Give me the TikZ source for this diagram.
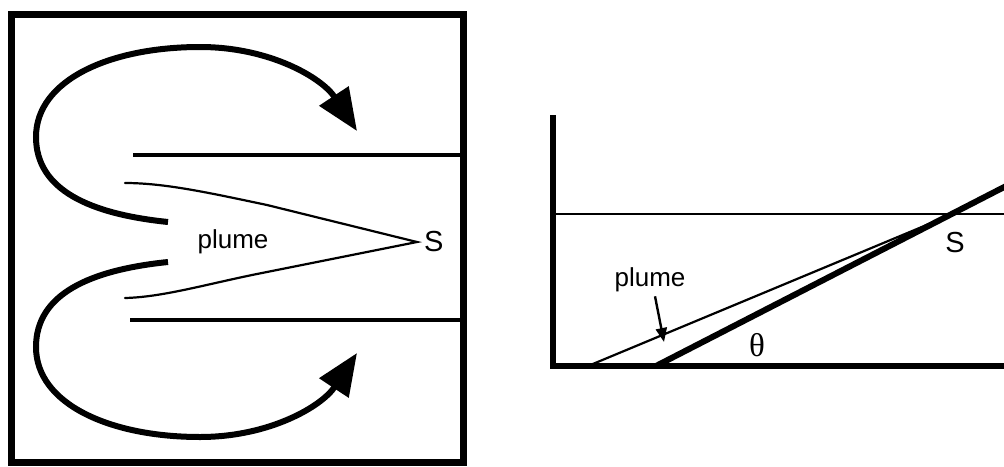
\documentclass[tikz,border=0pt]{standalone}
\usepackage{fontspec}
\setmainfont{Liberation Sans}
\newfontfamily\greekfont{Liberation Serif}
\usetikzlibrary{arrows.meta}
\begin{document}
\begin{tikzpicture}[x=1pt,y=-1pt,
  wall/.style={line width=#1, line cap=butt, line join=miter},
  flowarrow/.style={line width=6, line cap=butt, -{Triangle[length=42,width=34]}},
  thinline/.style={line width=2.2, line cap=round, line join=miter},
  lbl/.style={inner sep=0pt, font=\fontsize{26}{30}\selectfont},
  srclbl/.style={inner sep=0pt, font=\fontsize{29}{32}\selectfont}]
\useasboundingbox (0,0) rectangle (1004,466);

% ---- plan view: channel in a square tank ----
\draw[wall=7] (11,14) rectangle (463,462);
\draw[wall=4] (133,155) -- (463,155);
\draw[wall=4] (130,320) -- (463,320);

% plume spreading from the source
\draw[thinline] (125,183) .. controls (165,183) and (210,193) .. (267,205)
  -- (417,242) -- (267,272) .. controls (210,283) and (165,297) .. (125,298);
\node[lbl] (plumeL) at (233,242) {plume};
\node[srclbl, anchor=west] (srcL) at (424,242) {S};

% recirculating flow
\draw[flowarrow] (168,222) .. controls (90,214) and (36,190) .. (36,137)
  .. controls (36,80) and (110,47) .. (200,47)
  .. controls (270,47) and (322,78) .. (357,131);
\draw[flowarrow] (168,262) .. controls (90,270) and (36,294) .. (36,347)
  .. controls (36,404) and (110,437) .. (200,437)
  .. controls (270,437) and (322,406) .. (357,353);

% ---- side view: sloping bottom ----
\draw[wall=6.5] (553,115) -- (553,366) -- (1012,366);
\draw[line width=2] (553,214) -- (1012,214);
\draw[wall=6] (656,366) -- (1012,183);
\draw[thinline] (588,366) -- (953,214);
\draw[line width=1.2] (898,238.5) -- (953,214);

\node[lbl] (plumeR) at (650,280) {plume};
\coordinate (plumeTip) at (664,342);
\draw[line width=2.4, -{Triangle[length=14,width=11]}] (plumeR.south) ++(5,4) -- (plumeTip);
\node[srclbl] (srcR) at (955,243) {S};
\node[inner sep=0pt, font=\greekfont\fontsize{33}{36}\selectfont] (theta) at (757,345) {θ};
\end{tikzpicture}
\end{document}
